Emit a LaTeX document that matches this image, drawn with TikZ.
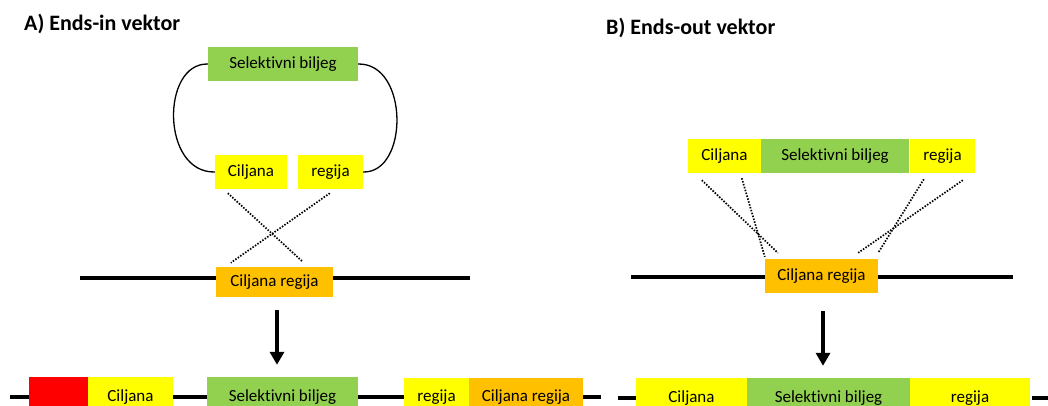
\documentclass[tikz,border=0pt]{standalone}
\usepackage{fontspec}
\setmainfont{Carlito}[Ligatures={NoCommon}]
\usetikzlibrary{arrows.meta}
\definecolor{selgreen}{HTML}{92D050}
\definecolor{cilyellow}{HTML}{FFFF00}
\definecolor{regorange}{HTML}{FFC000}
\definecolor{lostred}{HTML}{FF0000}
\tikzset{
  title/.style={anchor=west, inner sep=0pt, font=\bfseries\fontsize{22}{26}\selectfont},
  box/.style={inner sep=0pt, minimum height=34, font=\fontsize{17}{20}\selectfont},
  chrom/.style={line width=4pt},
  pairing/.style={line width=1.7pt, dash pattern=on 1.5pt off 1.5pt},
  result/.style={-{Triangle[width=14pt,length=13pt]}, line width=4pt, shorten >=12pt},
}

\begin{document}
\begin{tikzpicture}[x=1pt,y=-1pt]
    \useasboundingbox (0,0) rectangle (1048,405);
    \clip (0,0) rectangle (1048,405);
    \node[title] (titA) at (24,24) {A) Ends-in vektor};
    \node[title] (titB) at (606,28) {B) Ends-out vektor};

    % A) ends-in
    \node[box, fill=selgreen,  minimum width=150] (selA) at (283,64)    {Selektivni biljeg};
    \node[box, fill=cilyellow, minimum width=72]  (cilA) at (251,172)   {Ciljana};
    \node[box, fill=cilyellow, minimum width=65]  (regA) at (330.5,172) {regija};
    \draw[line width=1.3pt] (selA.west) .. controls (161,63) and (161,173) .. (cilA.west);
    \draw[line width=1.3pt] (selA.east) .. controls (409,63) and (409,173) .. (regA.east);
    \node[box, fill=regorange, minimum width=117, minimum height=30] (orA) at (274.5,282) {Ciljana regija};
    \coordinate (lA) at (80,278);
    \coordinate (rA) at (470,278);
    \draw[chrom] (lA) -- (lA -| orA.west);
    \draw[chrom] (rA -| orA.east) -- (rA);
    \draw[pairing] ([shift={(13,4)}]cilA.south west) -- ([shift={(87,-5)}]orA.north west);
    \draw[pairing] ([shift={(32,4)}]regA.south west) -- ([shift={(15,-4)}]orA.north west);

    \node[box, fill=lostred,   minimum width=59,  minimum height=40] (redA2) at (58.5,397)  {};
    \node[box, fill=cilyellow, minimum width=85,  minimum height=40] (cilA2) at (130.5,397) {Ciljana};
    \node[box, fill=selgreen,  minimum width=151, minimum height=40] (selA2) at (282.5,397) {Selektivni biljeg};
    \node[box, fill=cilyellow, minimum width=65,  minimum height=38] (regA2) at (436.5,397) {regija};
    \node[box, fill=regorange, minimum width=114, minimum height=38] (orA2)  at (526,397)   {Ciljana regija};
    \coordinate (lA2) at (10,397);
    \coordinate (rA2) at (601,397);
    \draw[chrom] (lA2) -- (redA2);
    \draw[chrom] (cilA2) -- (selA2);
    \draw[chrom] (selA2) -- (regA2);
    \draw[chrom] (orA2.east |- rA2) -- (rA2);
    \coordinate (arrA) at (277,310);
    \draw[result] (arrA) -- (arrA |- selA2.north);

    % B) ends-out
    \node[box, fill=cilyellow, minimum width=73]  (cilB) at (724.5,156) {Ciljana};
    \node[box, fill=selgreen,  minimum width=148] (selB) at (835,156)   {Selektivni biljeg};
    \node[box, fill=cilyellow, minimum width=65]  (regB) at (942.5,156) {regija};
    \node[box, fill=regorange, minimum width=113] (orB)  at (821.5,276) {Ciljana regija};
    \coordinate (lB) at (631,277);
    \coordinate (rB) at (1013,277);
    \draw[chrom] (lB) -- (lB -| orB.west);
    \draw[chrom] (rB -| orB.east) -- (rB);
    \draw[pairing] ([shift={(14,7)}]cilB.south west) -- ([shift={(13,-6)}]orB.north west);
    \draw[pairing] ([shift={(54,5)}]cilB.south west) -- ([shift={(0,-2)}]orB.north west);
    \draw[pairing] ([shift={(14,6)}]regB.south west) -- ([shift={(0,-6)}]orB.north east);
    \draw[pairing] ([shift={(53,7)}]regB.south west) -- ([shift={(-20,-6)}]orB.north east);

    \node[box, fill=cilyellow, minimum width=111, minimum height=40] (cilB2) at (691.5,398) {Ciljana};
    \node[box, fill=selgreen,  minimum width=163, minimum height=40] (selB2) at (828.5,398) {Selektivni biljeg};
    \node[box, fill=cilyellow, minimum width=120, minimum height=40] (regB2) at (970,398)   {regija};
    \coordinate (lB2) at (618,398);
    \coordinate (rB2) at (1048,398);
    \draw[chrom] (lB2) -- (cilB2);
    \draw[chrom] (regB2.east |- rB2) ++(2,0) -- (rB2);
    \coordinate (arrB) at (823,311);
    \draw[result] (arrB) -- (arrB |- selB2.north);
\end{tikzpicture}
\end{document}
